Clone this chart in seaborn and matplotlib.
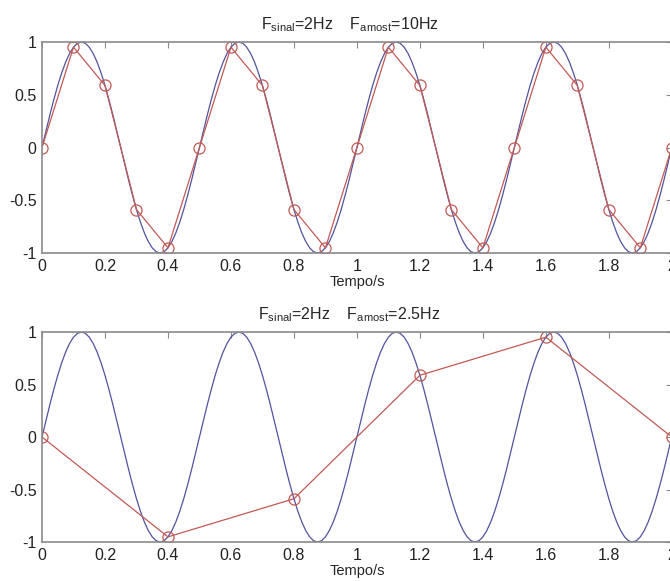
import numpy as np
import pandas as pd
import matplotlib
matplotlib.use("Agg")
import matplotlib.pyplot as plt
import seaborn as sns

# ---- data ----
# continuous 2 Hz signal, values read at 0.0125 s steps from 0 to 2 s
signal_values = [
    0.000, 0.156, 0.309, 0.454, 0.588, 0.707, 0.809, 0.891, 0.951, 0.988,
    1.000, 0.988, 0.951, 0.891, 0.809, 0.707, 0.588, 0.454, 0.309, 0.156,
    0.000, -0.156, -0.309, -0.454, -0.588, -0.707, -0.809, -0.891, -0.951, -0.988,
    -1.000, -0.988, -0.951, -0.891, -0.809, -0.707, -0.588, -0.454, -0.309, -0.156,
    0.000, 0.156, 0.309, 0.454, 0.588, 0.707, 0.809, 0.891, 0.951, 0.988,
    1.000, 0.988, 0.951, 0.891, 0.809, 0.707, 0.588, 0.454, 0.309, 0.156,
    0.000, -0.156, -0.309, -0.454, -0.588, -0.707, -0.809, -0.891, -0.951, -0.988,
    -1.000, -0.988, -0.951, -0.891, -0.809, -0.707, -0.588, -0.454, -0.309, -0.156,
    0.000, 0.156, 0.309, 0.454, 0.588, 0.707, 0.809, 0.891, 0.951, 0.988,
    1.000, 0.988, 0.951, 0.891, 0.809, 0.707, 0.588, 0.454, 0.309, 0.156,
    0.000, -0.156, -0.309, -0.454, -0.588, -0.707, -0.809, -0.891, -0.951, -0.988,
    -1.000, -0.988, -0.951, -0.891, -0.809, -0.707, -0.588, -0.454, -0.309, -0.156,
    0.000, 0.156, 0.309, 0.454, 0.588, 0.707, 0.809, 0.891, 0.951, 0.988,
    1.000, 0.988, 0.951, 0.891, 0.809, 0.707, 0.588, 0.454, 0.309, 0.156,
    0.000, -0.156, -0.309, -0.454, -0.588, -0.707, -0.809, -0.891, -0.951, -0.988,
    -1.000, -0.988, -0.951, -0.891, -0.809, -0.707, -0.588, -0.454, -0.309, -0.156,
    0.000,
]
signal_time = np.linspace(0, 2, len(signal_values))

# samples at 10 Hz
samp10_time = [0.0, 0.1, 0.2, 0.3, 0.4, 0.5, 0.6, 0.7, 0.8, 0.9, 1.0,
               1.1, 1.2, 1.3, 1.4, 1.5, 1.6, 1.7, 1.8, 1.9, 2.0]
samp10_vals = [0.0, 0.951, 0.588, -0.588, -0.951, 0.0, 0.951, 0.588, -0.588, -0.951, 0.0,
               0.951, 0.588, -0.588, -0.951, 0.0, 0.951, 0.588, -0.588, -0.951, 0.0]

# samples at 2.5 Hz
samp25_time = [0.0, 0.4, 0.8, 1.2, 1.6, 2.0]
samp25_vals = [0.0, -0.951, -0.588, 0.588, 0.951, 0.0]

titles = [r"F$_{\mathrm{sinal}}$=2Hz    F$_{\mathrm{amost}}$=10Hz",
          r"F$_{\mathrm{sinal}}$=2Hz    F$_{\mathrm{amost}}$=2.5Hz"]
xlabel = "Tempo/s"
xticks = [0, 0.2, 0.4, 0.6, 0.8, 1.0, 1.2, 1.4, 1.6, 1.8, 2.0]
xticklabels = ["0", "0.2", "0.4", "0.6", "0.8", "1", "1.2", "1.4", "1.6", "1.8", "2"]
yticks = [-1, -0.5, 0, 0.5, 1]
yticklabels = ["-1", "-0.5", "0", "0.5", "1"]

# ---- style ----
sns.set_style("white")
plt.rcParams["font.family"] = ["Liberation Sans", "DejaVu Sans"]
plt.rcParams["mathtext.fontset"] = "custom"
plt.rcParams["mathtext.rm"] = "Liberation Sans"
plt.rcParams["mathtext.it"] = "Liberation Sans:italic"

BLUE = "#52529e"
RED = "#c05a55"
SPINE = "#8a8a8a"

fig = plt.figure(figsize=(6.7, 5.81), dpi=100)
ax1 = fig.add_axes([0.0627, 0.5645, 0.940, 0.3632])
ax2 = fig.add_axes([0.0627, 0.0671, 0.940, 0.3614])

sig_df = pd.DataFrame({"t": signal_time, "v": signal_values})
samples = [pd.DataFrame({"t": samp10_time, "v": samp10_vals}),
           pd.DataFrame({"t": samp25_time, "v": samp25_vals})]

for ax, sdf, title in zip([ax1, ax2], samples, titles):
    sns.lineplot(data=sig_df, x="t", y="v", ax=ax, color=BLUE, linewidth=0.9,
                 sort=False, estimator=None)
    sns.lineplot(data=sdf, x="t", y="v", ax=ax, color=RED, linewidth=0.9,
                 sort=False, estimator=None, marker="o", markersize=8,
                 markerfacecolor="none", markeredgecolor=RED, markeredgewidth=0.9)
    ax.set_xlim(0, 2)
    ax.set_ylim(-1, 1)
    ax.set_xticks(xticks)
    ax.set_xticklabels(xticklabels)
    ax.set_yticks(yticks)
    ax.set_yticklabels(yticklabels)
    ax.set_xlabel(xlabel, fontsize=10.5, labelpad=1)
    ax.set_ylabel("")
    ax.set_title(title, fontsize=11.5, pad=9, x=0.488)
    ax.tick_params(direction="in", length=4, width=0.8, color=SPINE,
                   labelsize=11.5, top=True, right=True, pad=4,
                   labelcolor="#222222")
    for sp in ax.spines.values():
        sp.set_visible(True)
        sp.set_color(SPINE)
        sp.set_linewidth(1.2)

fig.savefig("out.png", dpi=100)
